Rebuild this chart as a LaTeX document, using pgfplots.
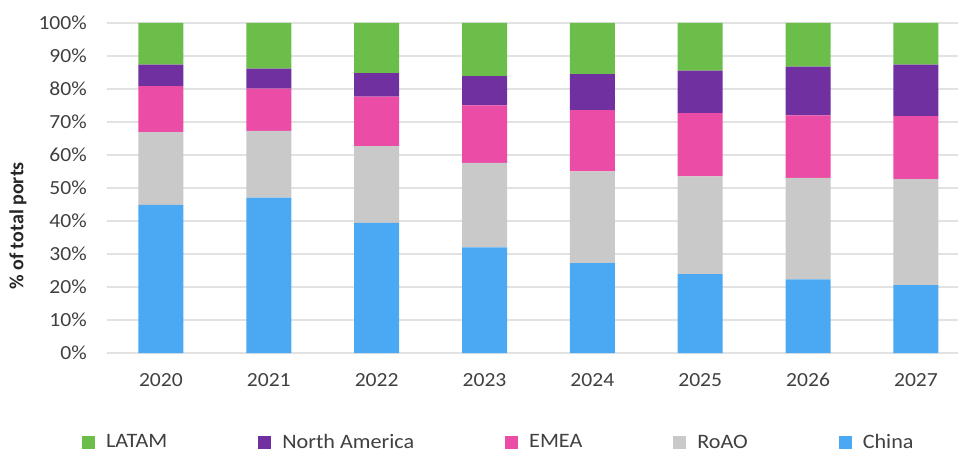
\documentclass[border=0pt]{standalone}
\usepackage{pgfplots}
\pgfplotsset{compat=1.18}
\usepackage{fontspec}
\setmainfont{Carlito}[FakeStretch=1.08]
\newfontfamily\ylabfont{Carlito}

\definecolor{latam}{HTML}{6CBE4B}
\definecolor{namer}{HTML}{7030A0}
\definecolor{emea}{HTML}{EB4CA6}
\definecolor{roao}{HTML}{C9C9C9}
\definecolor{china}{HTML}{4AA9F2}
\definecolor{gridgray}{HTML}{E2E2E2}
\definecolor{txt}{HTML}{404040}

% shares of total ports, %
\pgfplotstableread{
x china roao emea namer latam
0 44.9 22.0 14.0 6.5 12.6
1 47.1 20.2 12.8 6.1 13.8
2 39.4 23.3 15.0 7.1 15.2
3 32.0 25.6 17.4 8.9 16.1
4 27.2 27.8 18.6 10.9 15.5
5 23.9 29.6 19.2 12.9 14.4
6 22.3 30.8 18.9 14.8 13.2
7 20.6 32.1 19.1 15.6 12.6
}\shares

\begin{document}
\begin{tikzpicture}[x=1pt,y=1pt]
\path[use as bounding box] (0,0) rectangle (958,452);
\begin{axis}[
  at={(107pt,99pt)}, anchor=south west,
  scale only axis, width=851pt, height=330pt,
  ybar stacked, bar width=45pt,
  xmin=-0.5, xmax=7.39, ymin=0, ymax=100,
  xtick=data, xticklabels={2020,2021,2022,2023,2024,2025,2026,2027},
  ytick={0,10,...,100},
  yticklabel={\pgfmathprintnumber{\tick}\%},
  /pgf/number format/assume math mode=true,
  ymajorgrids, grid style={color=gridgray, line width=1.5pt},
  axis line style={draw=none}, major tick length=0pt,
  tick label style={font=\fontsize{20}{24}\selectfont, text=txt, inner sep=0pt},
  yticklabel style={anchor=east, xshift=-20pt},
  xticklabel style={anchor=north, yshift=-20pt},
  ylabel={\ylabfont\bfseries \% of total ports},
  ylabel style={at={(rel axis cs:-0.1046,0.385)}, anchor=center, font=\fontsize{20}{24}\selectfont, text=black!85},
  reverse legend, legend columns=5,
  legend image code/.code={\fill[#1, draw=none] (0pt,-6.5pt) rectangle (13pt,6.5pt);},
  legend style={at={(rel axis cs:-0.0294,-0.27)}, anchor=west, draw=none, fill=none,
    inner sep=0pt, font=\fontsize{20.5}{24}\selectfont, text=txt,
    nodes={inner sep=0pt},
    /tikz/every even column/.append style={column sep=91pt},
    /tikz/every odd column/.append style={column sep=11pt}},
]
\addplot[fill=china, draw=none] table[x=x, y=china] {\shares};
\addlegendentry{China}
\addplot[fill=roao, draw=none] table[x=x, y=roao] {\shares};
\addlegendentry{RoAO}
\addplot[fill=emea, draw=none] table[x=x, y=emea] {\shares};
\addlegendentry{EMEA}
\addplot[fill=namer, draw=none] table[x=x, y=namer] {\shares};
\addlegendentry{North America}
\addplot[fill=latam, draw=none] table[x=x, y=latam] {\shares};
\addlegendentry{LATAM}
\end{axis}
\end{tikzpicture}
\end{document}
